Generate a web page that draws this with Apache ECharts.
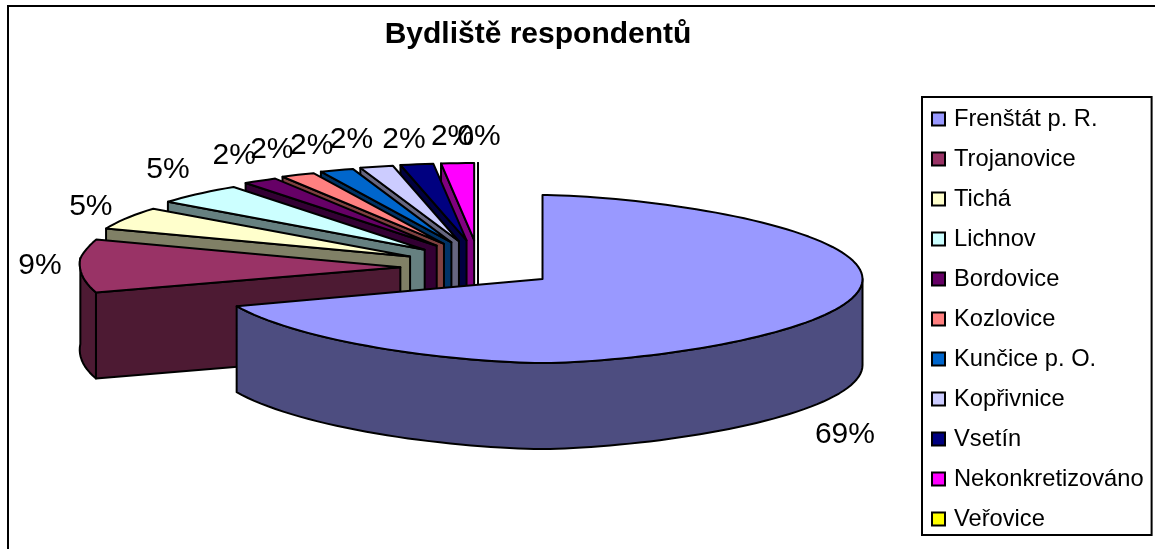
<!DOCTYPE html>
<html>
<head>
<meta charset="utf-8">
<style>html,body{margin:0;padding:0;background:#fff}#chart{width:1155px;height:549px}</style>
<script src="https://cdn.jsdelivr.net/npm/echarts@6/dist/echarts.min.js"></script>
</head>
<body>
<div id="chart"></div>
<script>
// Bydliště respondentů: exploded pseudo-3D pie, in percent of respondents
const categories = ['Frenštát p. R.', 'Trojanovice', 'Tichá', 'Lichnov', 'Bordovice', 'Kozlovice', 'Kunčice p. O.', 'Kopřivnice', 'Vsetín', 'Nekonkretizováno', 'Veřovice'];
const shares = [69, 9, 5, 5, 2, 2, 2, 2, 2, 2, 0];
const topColors = ['#9999FF', '#993366', '#FFFFCC', '#CCFFFF', '#660066', '#FF8080', '#0066CC', '#CCCCFF', '#000080', '#FF00FF', '#FFFF00'];
const sideColors = ['#4D4D80', '#4D1A33', '#808066', '#668080', '#330033', '#804040', '#003366', '#666680', '#000040', '#800080', '#808000'];
// Label shift from the slice's outer rim, in pixels
const labelShifts = [[50, 108], [-40, -1], [-36, -11], [-31, -24], [-26, -25], [-26, -25], [-25, -24], [-25, -27], [-13, -25], [-5, -26], [1, -26]];

const FONT = '"Liberation Sans", Arial, sans-serif';
const CX = 478, CY = 265;      // pie hub before the slices are pulled apart
const PULL_X = 78, PULL_Y = 25; // explosion distance
const DEPTH = 86;              // wall height
const total = shares.reduce((a, b) => a + b, 0);
const RAD = Math.PI / 180;

// Angular extent of a slice, clockwise from twelve o'clock
function extent(i) {
  const before = shares.slice(0, i).reduce((a, b) => a + b, 0);
  return [before / total * 360, (before + shares[i]) / total * 360];
}

function hub(i) {
  const [a, b] = extent(i);
  const m = (a + b) / 2 * RAD;
  const back = Math.max(0, Math.cos(m));
  return [CX + PULL_X * Math.sin(m) * (1 - 0.22 * back), CY - PULL_Y * Math.cos(m)];
}

// Foreshortened rim point; slices lying behind the hub shrink with distance
function rim(i, deg) {
  const h = hub(i), t = deg * RAD, u = Math.sin(t), v = -Math.cos(t);
  if (i === 0) {
    const r = u < 0 ? 335 : 320;
    const lift = u < 0 ? 5 * Math.pow(u, 4) : 0;
    return [h[0] + r * Math.sign(u) * Math.pow(Math.abs(u), 1.25), h[1] + 84 * v - lift];
  }
  const r = v < 0 ? 320 + 56 * v : 320 + 20 * v;
  const ramp = Math.min(1, Math.max(0, (deg - 248.4) / 32.4));
  return [h[0] + r * u, h[1] + (v > 0 ? 68 : 77) * v - 14 * u * u * ramp];
}

function arc(i, from, to) {
  const pts = [], n = Math.max(2, Math.ceil(Math.abs(to - from) / 2));
  for (let k = 0; k <= n; k++) pts.push(rim(i, from + (to - from) * k / n));
  return pts;
}

const drop = p => [p[0], p[1] + DEPTH];
const face = (points, fill) => ({
  type: 'polygon', silent: true,
  shape: { points },
  style: { fill, stroke: '#000', lineWidth: 2, lineJoin: 'round' }
});

function renderSlice(i, api) {
  const value = api.value(0);
  const [a, b] = extent(i);
  const h = hub(i);
  const side = sideColors[i], top = topColors[i];
  const children = [];

  // Radial cut on the leading edge, skipped on the big slice where it faces away
  if (i !== 0) {
    const p = rim(i, a);
    children.push(face([h, p, drop(p), drop(h)], side));
  }
  // Outer wall, only where the rim faces the viewer
  const wallFrom = Math.max(a, 90), wallTo = Math.min(b, 270);
  if (wallTo > wallFrom) {
    const w = arc(i, wallFrom, wallTo);
    children.push(face(w.concat(w.slice().reverse().map(drop)), side));
  }
  // Top surface
  children.push(face([h].concat(arc(i, a, b)), top));

  // Percent label
  const mid = rim(i, (a + b) / 2), s = labelShifts[i];
  children.push({
    type: 'text', silent: true, z2: 100,
    style: {
      text: Math.round(value) + '%',
      x: mid[0] + s[0], y: mid[1] + s[1],
      fill: '#000', font: '30px ' + FONT, align: 'center', verticalAlign: 'middle'
    }
  });
  return { type: 'group', children };
}

const series = categories.map((name, i) => ({
  name,
  type: 'custom',
  coordinateSystem: 'none',
  // Later slices sit further back, so the first one paints last
  z: 2 + categories.length - i,
  data: [[shares[i]]],
  itemStyle: { color: topColors[i], borderColor: '#000', borderWidth: 2 },
  animation: false,
  renderItem: (params, api) => renderSlice(i, api)
}));

const chart = echarts.init(document.getElementById('chart'), null, { renderer: 'canvas' });
chart.setOption({
  animation: false,
  backgroundColor: '#fff',
  title: {
    text: 'Bydliště respondentů',
    left: 538, top: 20, textAlign: 'center', padding: 0,
    textStyle: { fontFamily: FONT, fontSize: 30, fontWeight: 'bold', color: '#000' }
  },
  legend: {
    orient: 'vertical',
    left: 922, top: 97,
    padding: [10, 8, 4, 9],
    data: categories,
    itemWidth: 13, itemHeight: 13, itemGap: 16,
    selectedMode: false,
    icon: 'rect',
    backgroundColor: '#fff',
    borderColor: '#000', borderWidth: 2,
    textStyle: { fontFamily: FONT, fontSize: 23.7, color: '#000', padding: [0, 0, 0, 4] }
  },
  graphic: [{
    // Chart frame: only its top and left edges fall inside the page
    type: 'rect', silent: true, z: 0,
    shape: { x: 8, y: 6, width: 1180, height: 580 },
    style: { fill: 'none', stroke: '#000', lineWidth: 2 }
  }],
  series
});
</script>
</body>
</html>
